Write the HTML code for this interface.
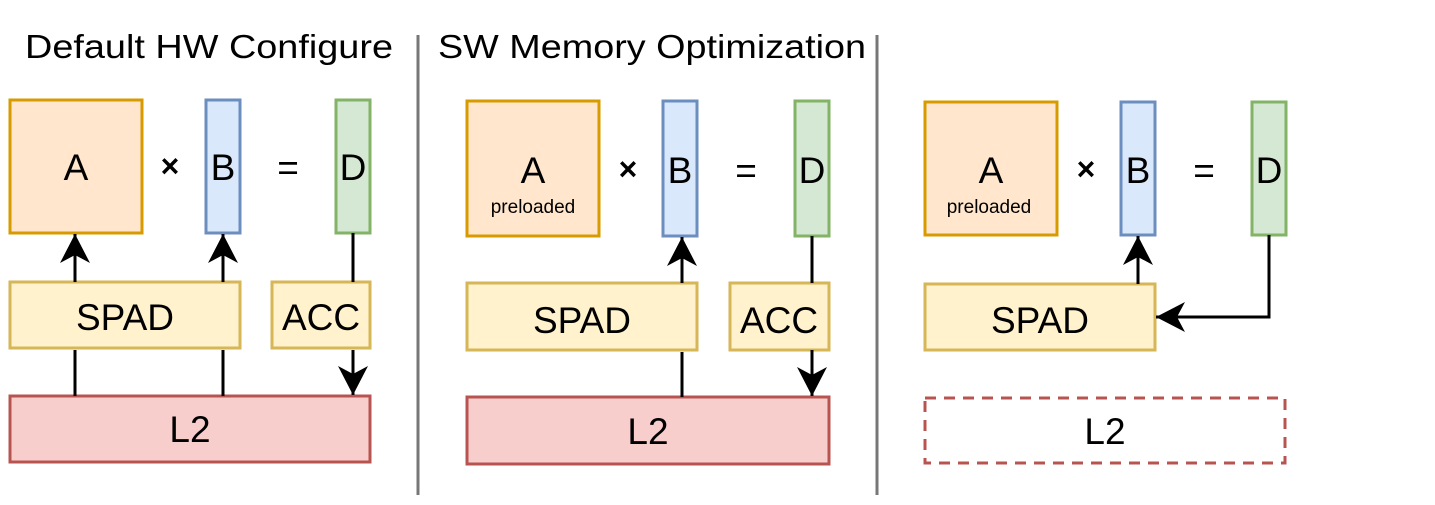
<!DOCTYPE html>
<html><head><meta charset="utf-8"><style>body{margin:0;background:#fff}</style></head><body>
<svg width="1435" height="500" xmlns="http://www.w3.org/2000/svg" font-family="Liberation Sans, Arial, sans-serif">
<defs><marker id="ar" markerWidth="30" markerHeight="30" refX="29" refY="15" orient="auto" markerUnits="userSpaceOnUse" viewBox="0 0 30 30"><path d="M0,0 L29,15 L0,30 L8,15 z" fill="#000"/></marker></defs>
<rect width="1435" height="500" fill="#fff"/>
<text x="25" y="58" font-size="33" textLength="368" lengthAdjust="spacingAndGlyphs">Default HW Configure</text>
<text x="438" y="58" font-size="33" textLength="428" lengthAdjust="spacingAndGlyphs">SW Memory Optimization</text>
<line x1="418" y1="35" x2="418" y2="495" stroke="#777" stroke-width="3"/>
<line x1="877" y1="35" x2="877" y2="495" stroke="#777" stroke-width="3"/>
<g stroke-width="3">
<rect x="10" y="100" width="132" height="133" fill="#ffe6cc" stroke="#d79b00"/>
<rect x="206" y="100" width="34" height="133" fill="#dae8fc" stroke="#6c8ebf"/>
<rect x="336" y="100" width="34" height="133" fill="#d5e8d4" stroke="#82b366"/>
<rect x="10" y="282" width="230" height="66" fill="#fff2cc" stroke="#d6b656"/>
<rect x="272" y="282" width="98" height="66" fill="#fff2cc" stroke="#d6b656"/>
<rect x="10" y="396" width="360" height="66" fill="#f8cecc" stroke="#b85450"/>
<rect x="467" y="101" width="132" height="135" fill="#ffe6cc" stroke="#d79b00"/>
<rect x="663" y="101" width="34" height="135" fill="#dae8fc" stroke="#6c8ebf"/>
<rect x="795" y="101" width="34" height="135" fill="#d5e8d4" stroke="#82b366"/>
<rect x="467" y="283" width="230" height="67" fill="#fff2cc" stroke="#d6b656"/>
<rect x="730" y="283" width="99" height="67" fill="#fff2cc" stroke="#d6b656"/>
<rect x="467" y="397" width="362" height="67" fill="#f8cecc" stroke="#b85450"/>
<rect x="925" y="102" width="132" height="133" fill="#ffe6cc" stroke="#d79b00"/>
<rect x="1121" y="102" width="34" height="133" fill="#dae8fc" stroke="#6c8ebf"/>
<rect x="1252" y="102" width="34" height="133" fill="#d5e8d4" stroke="#82b366"/>
<rect x="925" y="284" width="230" height="66" fill="#fff2cc" stroke="#d6b656"/>
<rect x="925" y="398" width="360" height="65" fill="none" stroke="#b85450" stroke-dasharray="11,8"/>
</g>
<g stroke="#000" stroke-width="3" fill="none">
<line x1="75" y1="282" x2="75" y2="234" marker-end="url(#ar)"/>
<line x1="223" y1="282" x2="223" y2="234" marker-end="url(#ar)"/>
<line x1="75" y1="396" x2="75" y2="350"/>
<line x1="223" y1="396" x2="223" y2="350"/>
<line x1="353" y1="233" x2="353" y2="282"/>
<line x1="353" y1="350" x2="353" y2="395" marker-end="url(#ar)"/>
<line x1="682" y1="397" x2="682" y2="352"/>
<line x1="682" y1="283" x2="682" y2="237" marker-end="url(#ar)"/>
<line x1="812" y1="236" x2="812" y2="283"/>
<line x1="812" y1="350" x2="812" y2="396" marker-end="url(#ar)"/>
<line x1="1138" y1="284" x2="1138" y2="236" marker-end="url(#ar)"/>
<polyline points="1269,235 1269,317 1156,317" marker-end="url(#ar)"/>
</g>
<g font-size="37" text-anchor="middle">
<text x="76" y="180">A</text><text x="223" y="180">B</text><text x="353" y="180">D</text>
<text x="170" y="177" font-size="32" font-weight="bold">×</text><text x="288" y="180">=</text>
<text x="125" y="330">SPAD</text><text x="321" y="330">ACC</text><text x="190" y="442">L2</text>
<text x="533" y="183">A</text><text x="680" y="183">B</text><text x="812" y="183">D</text>
<text x="628" y="180" font-size="32" font-weight="bold">×</text><text x="746" y="183">=</text>
<text x="533" y="213" font-size="19">preloaded</text>
<text x="582" y="333">SPAD</text><text x="779" y="333">ACC</text><text x="648" y="444">L2</text>
<text x="991" y="183">A</text><text x="1138" y="183">B</text><text x="1269" y="183">D</text>
<text x="1086" y="180" font-size="32" font-weight="bold">×</text><text x="1204" y="183">=</text>
<text x="989" y="213" font-size="19">preloaded</text>
<text x="1040" y="333">SPAD</text><text x="1105" y="444">L2</text>
</g>
</svg>
</body></html>
